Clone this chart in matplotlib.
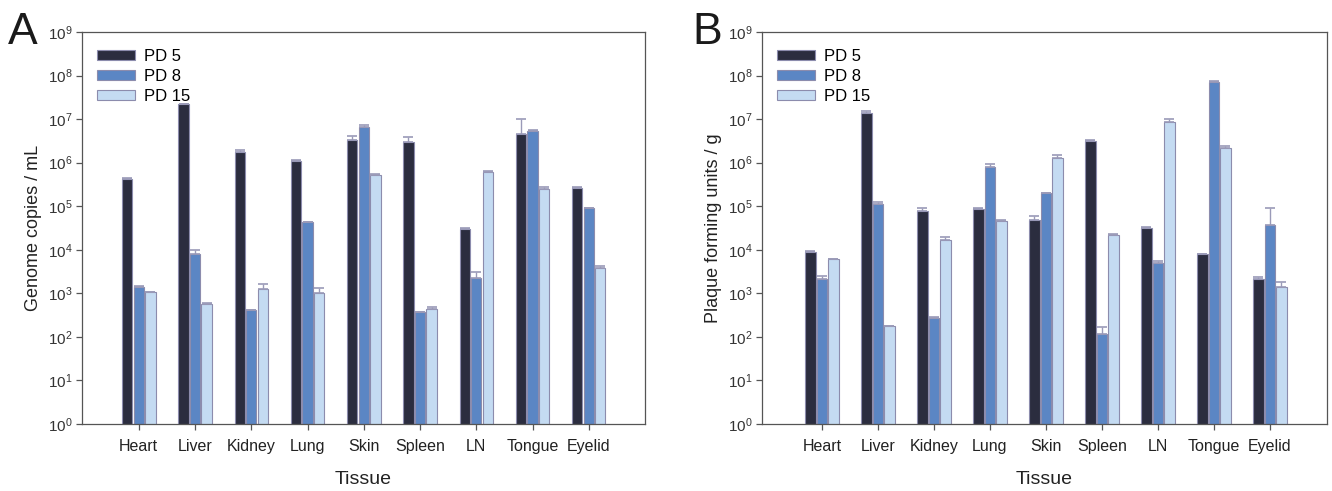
import numpy as np
import matplotlib
matplotlib.use("Agg")
import matplotlib.pyplot as plt
from matplotlib.ticker import NullLocator

plt.rcParams['font.family'] = ['Liberation Sans', 'DejaVu Sans']
plt.rcParams['mathtext.fontset'] = 'custom'
plt.rcParams['mathtext.rm'] = 'Liberation Sans'

tissues = ["Heart", "Liver", "Kidney", "Lung", "Skin", "Spleen", "LN", "Tongue", "Eyelid"]
series = ["PD 5", "PD 8", "PD 15"]

# Panel A: genome copies / mL (mean, upper error)
a_pd5 = [4.3e5, 2.2e7, 1.77e6, 1.12e6, 3.4e6, 3.0e6, 3.0e4, 4.6e6, 2.6e5]
a_pd5_err = [4.5e5, 2.25e7, 1.95e6, 1.15e6, 4.1e6, 3.9e6, 3.1e4, 1.0e7, 2.8e5]
a_pd8 = [1.4e3, 8.0e3, 4.1e2, 4.3e4, 6.7e6, 3.7e2, 2.3e3, 5.3e6, 8.9e4]
a_pd8_err = [1.45e3, 9.8e3, 4.2e2, 4.4e4, 7.4e6, 3.8e2, 3.1e3, 5.5e6, 9.1e4]
a_pd15 = [1.07e3, 5.6e2, 1.26e3, 1.03e3, 5.3e5, 4.3e2, 6.2e5, 2.5e5, 3.8e3]
a_pd15_err = [1.1e3, 5.9e2, 1.66e3, 1.32e3, 5.6e5, 4.8e2, 6.3e5, 2.7e5, 4.2e3]

# Panel B: plaque forming units / g
b_pd5 = [8.9e3, 1.35e7, 7.7e4, 8.7e4, 4.9e4, 3.2e6, 3.1e4, 7.8e3, 2.15e3]
b_pd5_err = [9.2e3, 1.55e7, 9.3e4, 9.0e4, 5.9e4, 3.4e6, 3.4e4, 8.2e3, 2.4e3]
b_pd8 = [2.15e3, 1.14e5, 2.76e2, 7.9e5, 2.0e5, 1.18e2, 5.0e3, 7.3e7, 3.7e4]
b_pd8_err = [2.45e3, 1.25e5, 2.8e2, 9.1e5, 2.05e5, 1.7e2, 5.5e3, 7.6e7, 8.9e4]
b_pd15 = [6.0e3, 1.78e2, 1.7e4, 4.7e4, 1.29e6, 2.2e4, 8.5e6, 2.14e6, 1.39e3]
b_pd15_err = [6.1e3, 1.8e2, 1.95e4, 4.8e4, 1.48e6, 2.35e4, 9.9e6, 2.4e6, 1.8e3]

colors = ["#2b2d3f", "#5b86c4", "#c4dbf2"]
edge = "#8c8cad"
errc = "#9a9ab8"
tick_c = "#333333"

fig = plt.figure(figsize=(13.32, 4.91), dpi=100)
axA = fig.add_axes([82/1332, 1-424/491, (645-82)/1332, (424-32)/491])
axB = fig.add_axes([762/1332, 1-424/491, (1327-762)/1332, (424-32)/491])

def draw(ax, vals, errs, ylabel, xlim):
    x = np.arange(len(tissues))
    w = 0.185
    offs = [-0.205, 0.0, 0.205]
    for i, (v, e) in enumerate(zip(vals, errs)):
        v = np.array(v); e = np.array(e)
        ax.bar(x + offs[i], v, w, bottom=0, color=colors[i], edgecolor=edge,
               linewidth=0.8, label=series[i], zorder=2)
        ax.errorbar(x + offs[i], v, yerr=[np.zeros_like(v), np.maximum(e - v, 0)],
                    fmt="none", ecolor=errc, elinewidth=1.0, capsize=3.6, capthick=1.2, zorder=3)
    ax.set_yscale("log")
    ax.set_ylim(1, 1e9)
    ax.set_xlim(*xlim)
    ax.set_yticks([10.0**k for k in range(10)])
    ax.yaxis.set_minor_locator(NullLocator())
    ax.set_yticklabels([r"$\mathregular{10^{%d}}$" % k for k in range(10)], fontsize=11, color=tick_c)
    ax.set_xticks(x)
    ax.set_xticklabels(tissues, fontsize=11.5, color="#222222")
    ax.tick_params(axis="both", direction="out", length=4, width=0.9, color="#555555")
    ax.tick_params(axis="x", pad=7)
    ax.tick_params(axis="y", pad=3)
    for s in ax.spines.values():
        s.set_color("#555555")
        s.set_linewidth(0.9)
    ax.set_ylabel(ylabel, fontsize=13, color="#222222", labelpad=4)
    ax.set_xlabel("Tissue", fontsize=14, color="#222222", labelpad=12)
    leg = ax.legend(loc="upper left", frameon=False, fontsize=12, handlelength=2.3,
                    handleheight=0.6, labelspacing=0.3, handletextpad=0.5,
                    borderaxespad=0.5, bbox_to_anchor=(0.0, 0.995))
    for h in leg.legend_handles:
        h.set_edgecolor(edge)

draw(axA, [a_pd5, a_pd8, a_pd15], [a_pd5_err, a_pd8_err, a_pd15_err],
     "Genome copies / mL", (-1.01, 9.0))
draw(axB, [b_pd5, b_pd8, b_pd15], [b_pd5_err, b_pd8_err, b_pd15_err],
     "Plaque forming units / g", (-1.07, 9.02))

fig.text(8/1332, 1-44/491, "A", fontsize=32, color="#1a1a1a", va="baseline", ha="left")
fig.text(692/1332, 1-44/491, "B", fontsize=32, color="#1a1a1a", va="baseline", ha="left")

fig.savefig("out.png", dpi=100)
